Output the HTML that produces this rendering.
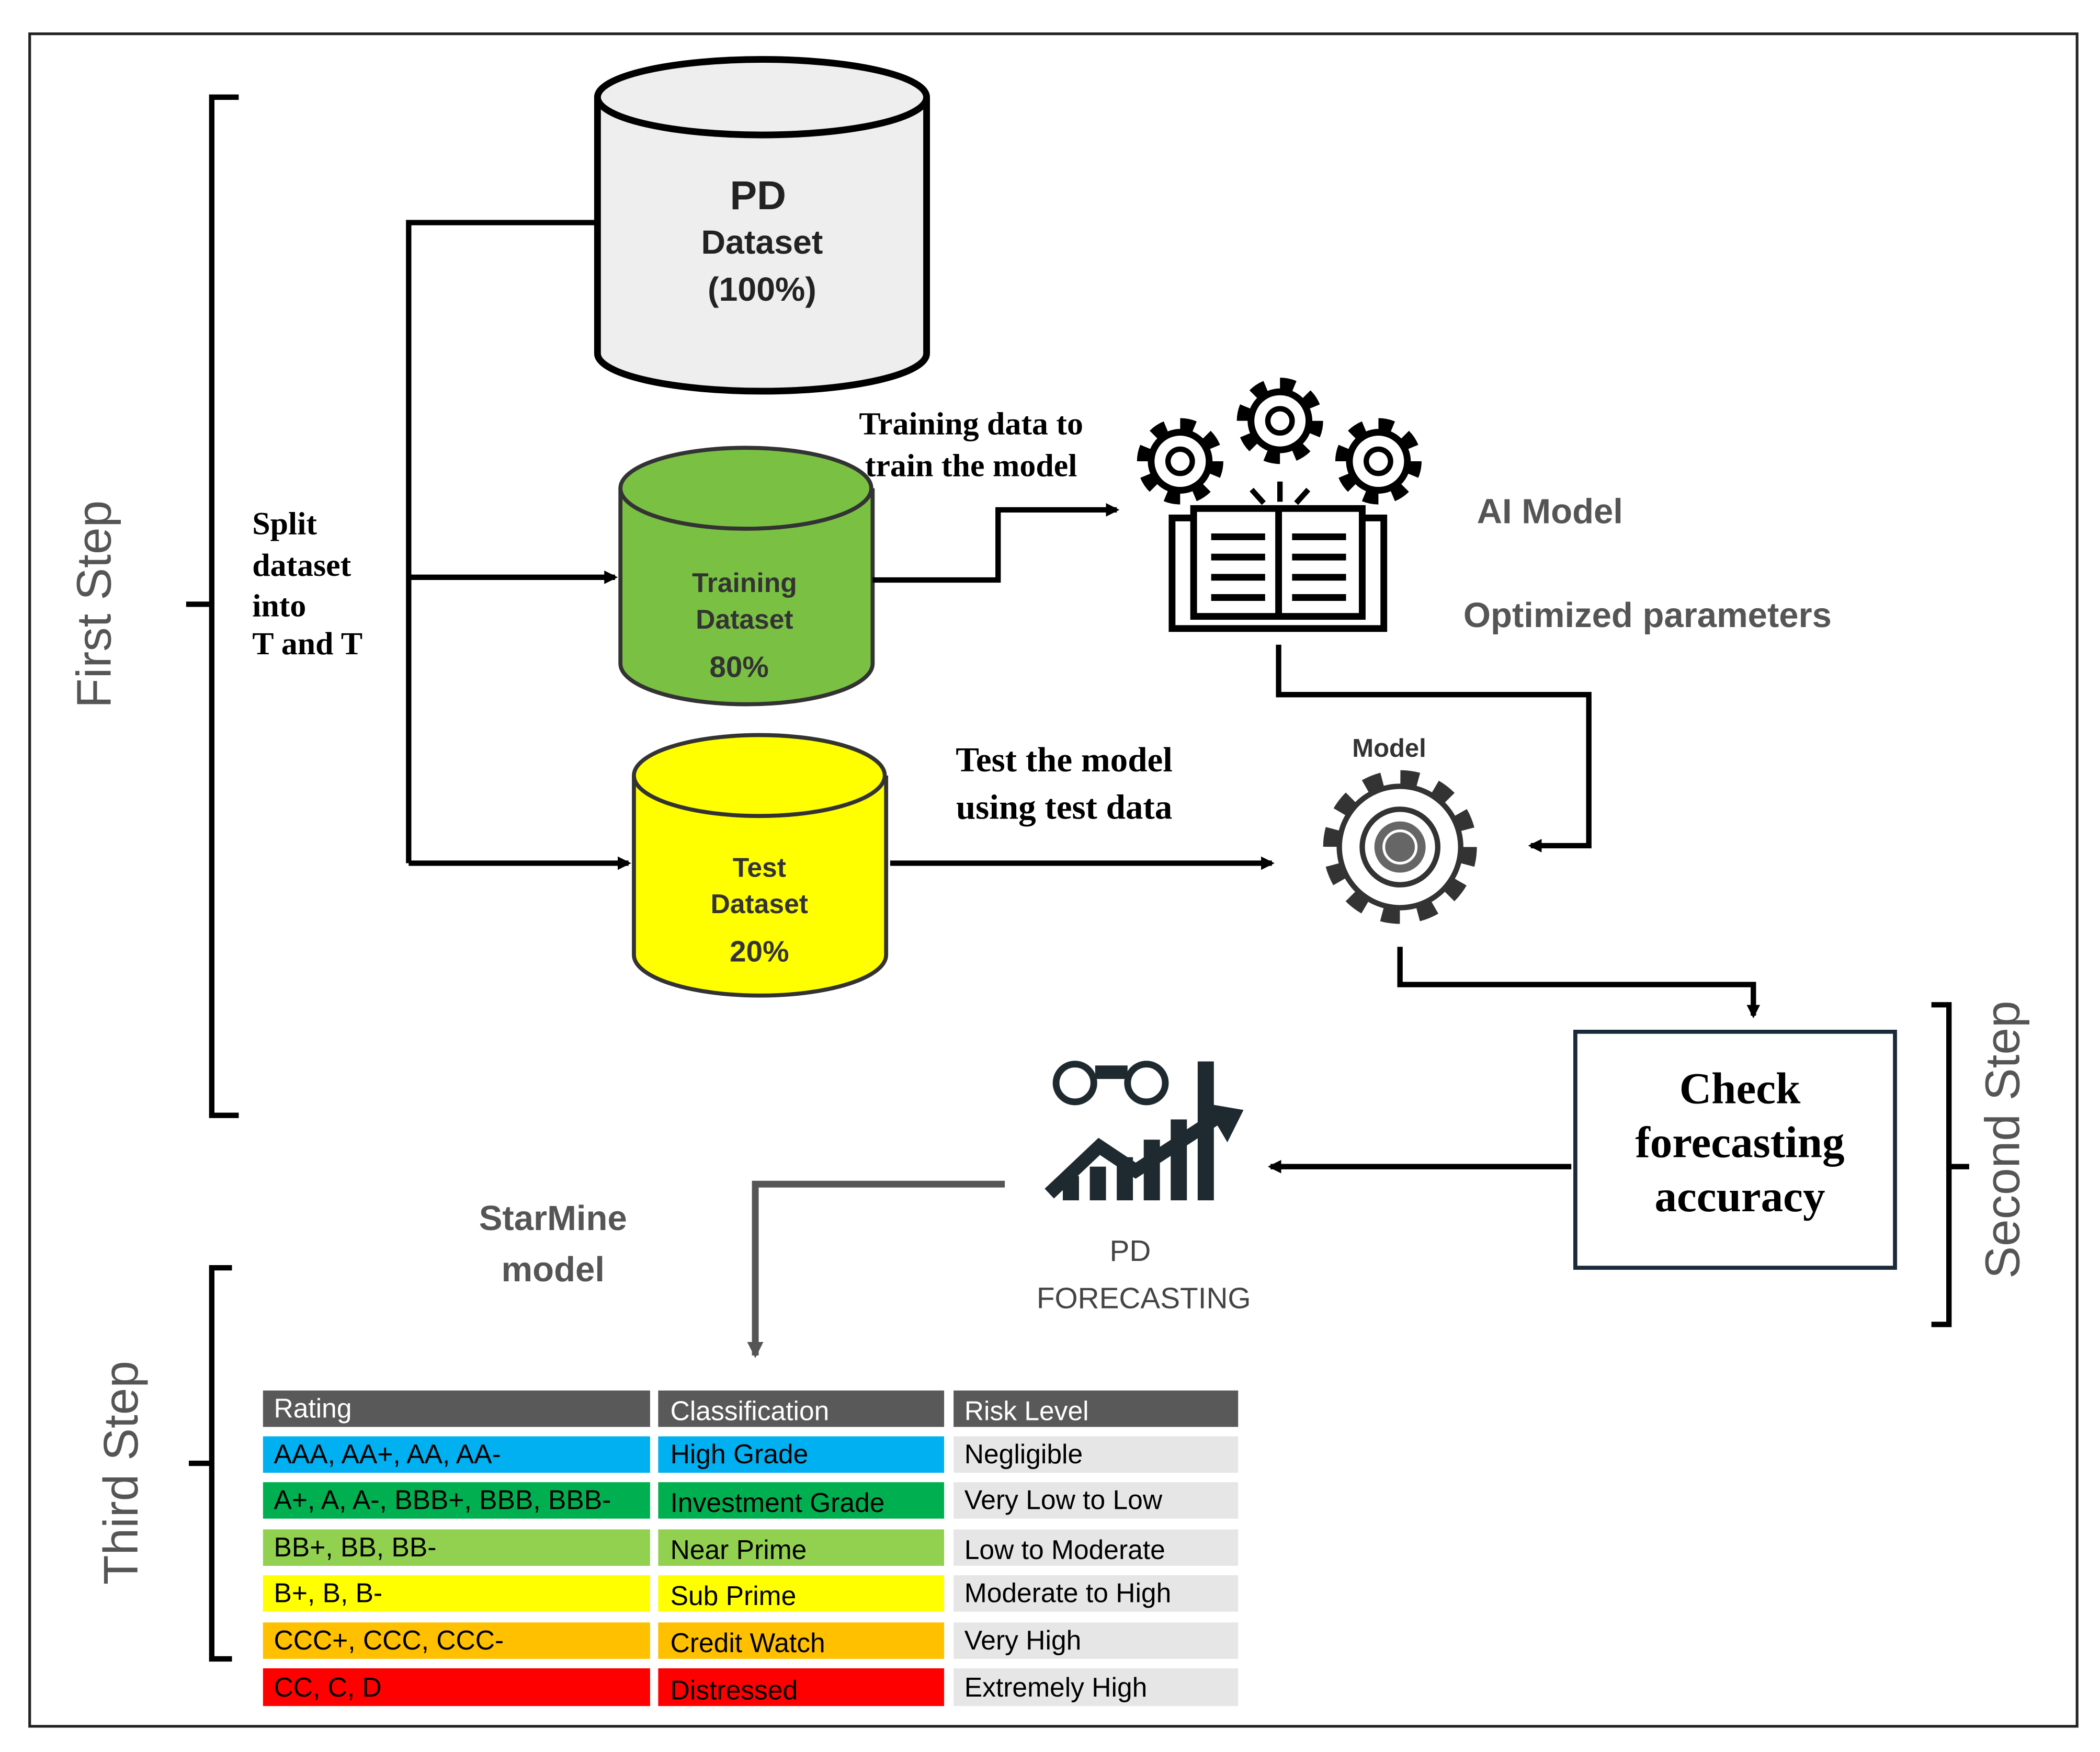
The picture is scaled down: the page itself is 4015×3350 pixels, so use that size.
<!DOCTYPE html>
<html><head><meta charset="utf-8"><style>
html,body{margin:0;padding:0;background:#fff}
svg{display:block}
.sans{font-family:"Liberation Sans","DejaVu Sans",sans-serif}
.serif{font-family:"Liberation Serif",serif;font-weight:bold}
</style></head><body>
<svg width="4015" height="3350" viewBox="0 0 1557 1299" xmlns="http://www.w3.org/2000/svg">
<defs>
<marker id="ah" markerWidth="10" markerHeight="10" refX="8" refY="5" orient="auto" markerUnits="userSpaceOnUse"><path d="M0,0 L10,5 L0,10 Z" fill="#000"/></marker>
<marker id="ahg" markerWidth="12" markerHeight="12" refX="10" refY="6" orient="auto" markerUnits="userSpaceOnUse"><path d="M0,0 L12,6 L0,12 Z" fill="#555"/></marker>
<g id="gear">
<circle r="27" fill="none" stroke="#000" stroke-width="10" stroke-dasharray="10.6 10.6"/>
<circle r="24" fill="#000"/>
<circle r="19" fill="#fff"/>
<circle r="9" fill="none" stroke="#000" stroke-width="4"/>
</g>
</defs>
<rect width="1557" height="1299" fill="#fff"/>
<rect x="22" y="25" width="1518" height="1255" fill="none" stroke="#222" stroke-width="2"/>

<path d="M177,72 H157 V827 H177 M157,448 H138" fill="none" stroke="#000" stroke-width="4"/>
<text class="sans" transform="translate(82,448) rotate(-90)" text-anchor="middle" font-size="36" fill="#555">First Step</text>
<g class="serif" font-size="24" fill="#000">
<text x="187" y="396">Split</text><text x="187" y="427">dataset</text><text x="187" y="457">into</text><text x="187" y="485">T and T</text>
</g>

<path d="M443,165 H303 V640" fill="none" stroke="#000" stroke-width="4"/>
<line x1="303" y1="428" x2="456" y2="428" stroke="#000" stroke-width="4" marker-end="url(#ah)"/>
<line x1="303" y1="640" x2="466" y2="640" stroke="#000" stroke-width="4" marker-end="url(#ah)"/>

<path d="M443,72 V262 A122,28 0 0 0 687,262 V72" fill="#eee" stroke="#000" stroke-width="5"/>
<ellipse cx="565" cy="72" rx="122" ry="28" fill="#eee" stroke="#000" stroke-width="5"/>
<g class="sans" font-weight="bold" fill="#222" text-anchor="middle">
<text x="562" y="155" font-size="30">PD</text>
<text x="565" y="188" font-size="25">Dataset</text>
<text x="565" y="223" font-size="25">(100%)</text>
</g>

<rect x="612" y="292" width="210" height="76" fill="#fff"/>
<g class="serif" font-size="24" fill="#000" text-anchor="middle">
<text x="720" y="322">Training data to</text><text x="720" y="353">train the model</text>
</g>

<path d="M460,362 V492 A93,30 0 0 0 647,492 V362" fill="#7ac143" stroke="#333" stroke-width="3"/>
<ellipse cx="553" cy="362" rx="93" ry="30" fill="#7ac143" stroke="#333" stroke-width="3"/>
<g class="sans" font-weight="bold" fill="#333" text-anchor="middle">
<text x="552" y="439" font-size="20">Training</text>
<text x="552" y="466" font-size="20">Dataset</text>
<text x="548" y="502" font-size="22">80%</text>
</g>

<path d="M470,575 V708 A93,30 0 0 0 657,708 V575" fill="#ffff00" stroke="#333" stroke-width="3"/>
<ellipse cx="563" cy="575" rx="93" ry="30" fill="#ffff00" stroke="#333" stroke-width="3"/>
<g class="sans" font-weight="bold" fill="#333" text-anchor="middle">
<text x="563" y="650" font-size="20">Test</text>
<text x="563" y="677" font-size="20">Dataset</text>
<text x="563" y="713" font-size="22">20%</text>
</g>

<path d="M647,430 H740 V378 H828" fill="none" stroke="#000" stroke-width="4" marker-end="url(#ah)"/>

<use href="#gear" x="875" y="342"/>
<use href="#gear" x="949" y="312"/>
<use href="#gear" x="1022" y="342"/>
<g stroke="#000" stroke-width="4">
<line x1="949" y1="357" x2="949" y2="372"/><line x1="928" y1="363" x2="937" y2="373"/><line x1="970" y1="363" x2="961" y2="373"/>
</g>
<rect x="869" y="384" width="157" height="82" fill="none" stroke="#000" stroke-width="5"/>
<rect x="885" y="377" width="125" height="80" fill="#fff" stroke="#000" stroke-width="5"/>
<line x1="948" y1="377" x2="948" y2="457" stroke="#000" stroke-width="5"/>
<g stroke="#000" stroke-width="5">
<line x1="898" y1="398" x2="938" y2="398"/><line x1="898" y1="413" x2="938" y2="413"/><line x1="898" y1="428" x2="938" y2="428"/><line x1="898" y1="443" x2="938" y2="443"/>
<line x1="958" y1="398" x2="998" y2="398"/><line x1="958" y1="413" x2="998" y2="413"/><line x1="958" y1="428" x2="998" y2="428"/><line x1="958" y1="443" x2="998" y2="443"/>
</g>
<g class="sans" font-weight="bold" fill="#555" font-size="26">
<text x="1095" y="388">AI Model</text>
<text x="1085" y="465">Optimized parameters</text>
</g>
<path d="M948,478 V515 H1178 V627 H1135" fill="none" stroke="#000" stroke-width="4" marker-end="url(#ah)"/>

<text class="sans" x="1030" y="561" font-size="19" font-weight="bold" fill="#333" text-anchor="middle">Model</text>
<g transform="translate(1038,628)">
<circle r="50" fill="none" stroke="#333" stroke-width="14" stroke-dasharray="13 13.2"/>
<circle r="47" fill="#333"/>
<circle r="43" fill="#fff"/>
<circle r="28" fill="none" stroke="#333" stroke-width="4"/>
<circle r="19" fill="#666"/>
<circle r="12" fill="none" stroke="#fff" stroke-width="2"/>
</g>
<g class="serif" font-size="26" fill="#000" text-anchor="middle">
<text x="789" y="572">Test the model</text><text x="789" y="607">using test data</text>
</g>
<line x1="660" y1="640" x2="943" y2="640" stroke="#000" stroke-width="4" marker-end="url(#ah)"/>
<path d="M1038,702 V730 H1300 V753" fill="none" stroke="#000" stroke-width="4" marker-end="url(#ah)"/>

<rect x="1168" y="765" width="237" height="175" fill="#fff" stroke="#1a2a3a" stroke-width="3"/>
<g class="serif" font-size="33" fill="#000" text-anchor="middle">
<text x="1290" y="818">Check</text><text x="1290" y="858">forecasting</text><text x="1290" y="898">accuracy</text>
</g>
<path d="M1432,745 H1445 V982 H1432 M1445,865 H1460" fill="none" stroke="#000" stroke-width="4"/>
<text class="sans" transform="translate(1497,845) rotate(-90)" text-anchor="middle" font-size="36" fill="#555">Second Step</text>
<line x1="1165" y1="865" x2="942" y2="865" stroke="#000" stroke-width="4" marker-end="url(#ah)"/>

<g fill="#1f2a30" stroke="#1f2a30">
<circle cx="797" cy="803" r="14" fill="none" stroke-width="5"/>
<circle cx="850" cy="803" r="14" fill="none" stroke-width="5"/>
<rect x="812" y="790" width="24" height="10" stroke="none"/>
<rect x="888" y="787" width="12" height="103" stroke="none"/>
<rect x="868" y="830" width="12" height="60" stroke="none"/>
<rect x="848" y="845" width="12" height="45" stroke="none"/>
<rect x="828" y="858" width="12" height="32" stroke="none"/>
<rect x="808" y="865" width="12" height="25" stroke="none"/>
<rect x="788" y="872" width="12" height="18" stroke="none"/>
<polyline points="778,885 815,850 842,868 905,827" fill="none" stroke-width="10"/>
<path d="M893,818 L922,823 L910,847 Z" stroke="none"/>
</g>
<g class="sans" font-size="22" fill="#444" text-anchor="middle">
<text x="838" y="935">PD</text><text x="848" y="970">FORECASTING</text>
</g>
<path d="M745,878 H560 V1005" fill="none" stroke="#555" stroke-width="5" marker-end="url(#ahg)"/>
<g class="sans" font-weight="bold" fill="#555" font-size="26" text-anchor="middle">
<text x="410" y="912">StarMine</text><text x="410" y="950">model</text>
</g>

<path d="M172,940 H157 V1230 H172 M157,1085 H140" fill="none" stroke="#000" stroke-width="4"/>
<text class="sans" transform="translate(102,1092) rotate(-90)" text-anchor="middle" font-size="36" fill="#555">Third Step</text>

<g class="sans" font-size="20">
<rect x="195" y="1031" width="287" height="27" fill="#595959"/><rect x="488" y="1031" width="212" height="27" fill="#595959"/><rect x="707" y="1031" width="211" height="27" fill="#595959"/>
<text x="203" y="1051" fill="#fff">Rating</text><text x="497" y="1053" fill="#fff">Classification</text><text x="715" y="1053" fill="#fff">Risk Level</text>

<rect x="195" y="1065" width="287" height="27" fill="#00b0f0"/><rect x="488" y="1065" width="212" height="27" fill="#00b0f0"/><rect x="707" y="1065" width="211" height="27" fill="#e7e6e6"/>
<text x="203" y="1085">AAA, AA+, AA, AA-</text><text x="497" y="1085">High Grade</text><text x="715" y="1085">Negligible</text>

<rect x="195" y="1099" width="287" height="27" fill="#00b050"/><rect x="488" y="1099" width="212" height="27" fill="#00b050"/><rect x="707" y="1099" width="211" height="27" fill="#e7e6e6"/>
<text x="203" y="1119">A+, A, A-, BBB+, BBB, BBB-</text><text x="497" y="1121">Investment Grade</text><text x="715" y="1119">Very Low to Low</text>

<rect x="195" y="1134" width="287" height="27" fill="#92d050"/><rect x="488" y="1134" width="212" height="27" fill="#92d050"/><rect x="707" y="1134" width="211" height="27" fill="#e7e6e6"/>
<text x="203" y="1154">BB+, BB, BB-</text><text x="497" y="1156">Near Prime</text><text x="715" y="1156">Low to Moderate</text>

<rect x="195" y="1168" width="287" height="27" fill="#ffff00"/><rect x="488" y="1168" width="212" height="27" fill="#ffff00"/><rect x="707" y="1168" width="211" height="27" fill="#e7e6e6"/>
<text x="203" y="1188">B+, B, B-</text><text x="497" y="1190">Sub Prime</text><text x="715" y="1188">Moderate to High</text>

<rect x="195" y="1203" width="287" height="27" fill="#ffc000"/><rect x="488" y="1203" width="212" height="27" fill="#ffc000"/><rect x="707" y="1203" width="211" height="27" fill="#e7e6e6"/>
<text x="203" y="1223">CCC+, CCC, CCC-</text><text x="497" y="1225">Credit Watch</text><text x="715" y="1223">Very High</text>

<rect x="195" y="1237" width="287" height="28" fill="#ff0000"/><rect x="488" y="1237" width="212" height="28" fill="#ff0000"/><rect x="707" y="1237" width="211" height="28" fill="#e7e6e6"/>
<text x="203" y="1258">CC, C, D</text><text x="497" y="1260">Distressed</text><text x="715" y="1258">Extremely High</text>
</g>
</svg>
</body></html>
